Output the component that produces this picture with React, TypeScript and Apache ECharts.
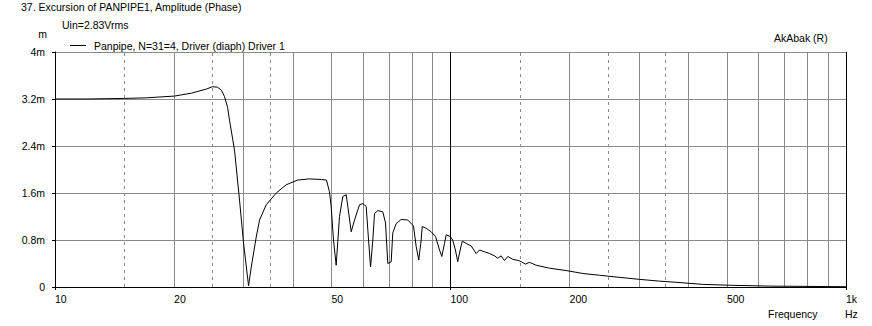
import React, { useEffect, useRef } from 'react';
import * as echarts from 'echarts';

// Frequency (Hz) and excursion amplitude (mm, labelled "m")
const FREQ = [
  10, 12, 15, 17.03, 20.05, 22.14, 24.16, 25.02, 25.76, 26.36, 26.83, 27.31, 27.62, 28.44, 29.28, 29.97,
  30.86, 31.35, 32.27, 32.9, 34.2, 36.25, 38.42, 41.04, 44.0, 47.19, 48.58, 49.43, 49.92, 50.6, 51.4,
  51.88, 52.4, 53.42, 54.49, 55.0, 56.1, 57.19, 58.88, 60.02, 61.22, 61.8, 62.78, 63.62, 64.25, 65.5,
  67.43, 68.5, 69.42, 70.8, 71.46, 72.9, 75.04, 77.98, 80.61, 81.89, 83.13, 84.31, 84.8, 86.8, 89.38,
  91.65, 93.8, 95.06, 96.56, 97.52, 99.82, 101.3, 102.9, 104.3, 105.8, 107.1, 109.6, 112.8, 116.1,
  118.4, 121.9, 125.5, 129.2, 131.7, 134.3, 136.9, 139.6, 143.7, 148.8, 150.9, 154.7, 158.4, 164.7,
  178.0, 196.1, 216.1, 238.1, 262.4, 300.6, 337.6, 372.1, 433.6, 507.6, 640.7, 1000,
];
const AMP = [
  3.2, 3.2, 3.21, 3.22, 3.25, 3.3, 3.37, 3.41, 3.4, 3.35, 3.24, 3.06, 2.84, 2.33, 1.48, 0.75,
  0.02, 0.34, 0.85, 1.14, 1.4, 1.6, 1.74, 1.82, 1.84, 1.83, 1.82, 1.62, 1.37, 0.8, 0.37,
  0.77, 1.2, 1.54, 1.57, 1.37, 0.94, 1.14, 1.4, 1.42, 1.37, 0.97, 0.34, 0.8, 1.25, 1.3,
  1.28, 1.09, 0.4, 0.43, 0.92, 1.08, 1.15, 1.14, 1.04, 0.69, 0.46, 0.8, 1.03, 1.0, 0.94,
  0.86, 0.63, 0.52, 0.74, 0.89, 0.86, 0.8, 0.63, 0.43, 0.63, 0.78, 0.74, 0.7, 0.57,
  0.63, 0.6, 0.57, 0.53, 0.49, 0.53, 0.45, 0.52, 0.47, 0.45, 0.43, 0.39, 0.42, 0.37,
  0.32, 0.28, 0.23, 0.2, 0.17, 0.13, 0.1, 0.08, 0.045, 0.03, 0.015, 0.005,
];

const SERIES_NAME = 'Panpipe, N=31=4, Driver (diaph) Driver 1';
const TITLE = '37. Excursion of PANPIPE1, Amplitude (Phase)';
const SUBTITLE = 'Uin=2.83Vrms';
const BRAND = 'AkAbak (R)';

const Y_MIN = 0;
const Y_MAX = 4;
const Y_STEP = 0.8;

const SOLID_GRID_HZ = [20, 30, 40, 50, 60, 70, 80, 90, 200, 300, 400, 500, 600, 700, 800, 900];
const DASHED_GRID_HZ = [15, 25, 35, 150, 250, 350];
const DARK_GRID_HZ = [100, 1000];
const EXTRA_X_LABELS = [20, 50, 200, 500];

const FONT = '"Liberation Sans", Arial, sans-serif';
const FS = 10.5;
const GRID_COLOR = '#8a8a8a';

export default function App() {
  const ref = useRef<HTMLDivElement>(null);

  useEffect(() => {
    if (!ref.current) return;
    const chart = echarts.init(ref.current, undefined, { renderer: 'svg' });

    const gridLines: any[] = [];
    SOLID_GRID_HZ.forEach((f) =>
      gridLines.push({
        xAxis: f,
        lineStyle: { color: GRID_COLOR, type: 'solid', width: 1 },
        label: { show: EXTRA_X_LABELS.includes(f), formatter: String(f) },
      })
    );
    DASHED_GRID_HZ.forEach((f) =>
      gridLines.push({
        xAxis: f,
        lineStyle: { color: GRID_COLOR, type: [3, 4], width: 1 },
        label: { show: false },
      })
    );
    DARK_GRID_HZ.forEach((f) =>
      gridLines.push({
        xAxis: f,
        lineStyle: { color: '#000', type: 'solid', width: 1 },
        label: { show: false },
      })
    );

    const option: any = {
      animation: false,
      backgroundColor: '#fff',
      textStyle: { fontFamily: FONT, fontSize: FS, color: '#000' },
      grid: { left: 55, top: 52, width: 791, height: 235 },
      legend: {
        left: 65,
        top: 35,
        icon: 'rect',
        itemWidth: 16,
        itemHeight: 1,
        data: [SERIES_NAME],
        textStyle: { fontFamily: FONT, fontSize: FS, color: '#000', padding: [0, 0, 0, 3] },
        selectedMode: false,
      },
      xAxis: {
        type: 'log',
        logBase: 10,
        min: 10,
        max: 1000,
        axisLine: { show: true, lineStyle: { color: '#000', width: 1 } },
        axisTick: { show: true, length: 3, lineStyle: { color: '#000' } },
        axisLabel: {
          align: 'left',
          margin: 6,
          fontFamily: FONT,
          fontSize: FS,
          color: '#000',
          formatter: (v: number) => {
            const r = Math.round(v);
            return r >= 1000 ? r / 1000 + 'k' : String(r);
          },
        },
        splitLine: { show: false },
        minorTick: { show: false },
      },
      yAxis: {
        type: 'value',
        min: Y_MIN,
        max: Y_MAX,
        interval: Y_STEP,
        name: 'm',
        nameLocation: 'end',
        nameGap: 13,
        nameTextStyle: { fontFamily: FONT, fontSize: FS, color: '#000', align: 'right', padding: [0, 8, 0, 0] },
        axisLine: { show: true, lineStyle: { color: '#000', width: 1 } },
        axisTick: { show: true, length: 3, lineStyle: { color: '#000' } },
        axisLabel: {
          margin: 10,
          fontFamily: FONT,
          fontSize: FS,
          color: '#000',
          padding: [0, 0, 6, 0],
          formatter: (v: number) => {
            const r = Number(v.toFixed(1));
            return r === 0 ? '0' : r + 'm';
          },
        },
        splitLine: { show: true, lineStyle: { color: GRID_COLOR, width: 1 } },
      },
      series: [
        {
          name: 'gridlines',
          type: 'line',
          data: [],
          z: 1,
          silent: true,
          markLine: {
            silent: true,
            z: 1,
            animation: false,
            symbol: ['none', 'none'],
            emphasis: { disabled: true },
            label: {
              show: false,
              position: 'start',
              align: 'left',
              distance: 6,
              fontFamily: FONT,
              fontSize: FS,
              color: '#000',
            },
            data: gridLines,
          },
        },
        {
          name: SERIES_NAME,
          type: 'line',
          z: 10,
          data: FREQ.map((f, i) => [f, AMP[i]]),
          showSymbol: false,
          symbol: 'none',
          color: '#000',
          lineStyle: { color: '#000', width: 1 },
          itemStyle: { color: '#000' },
          emphasis: { disabled: true },
        },
      ],
      graphic: [
        { type: 'text', x: 21, y: 7, style: { text: TITLE, font: `${FS}px ${FONT}`, fill: '#000', verticalAlign: 'middle' } },
        { type: 'text', x: 62, y: 24.5, style: { text: SUBTITLE, font: `${FS}px ${FONT}`, fill: '#000', verticalAlign: 'middle' } },
        { type: 'text', x: 774, y: 37.5, style: { text: BRAND, font: `${FS}px ${FONT}`, fill: '#000', verticalAlign: 'middle' } },
        { type: 'text', x: 768, y: 314, style: { text: 'Frequency', font: `${FS}px ${FONT}`, fill: '#000', verticalAlign: 'middle' } },
        { type: 'text', x: 845, y: 314, style: { text: 'Hz', font: `${FS}px ${FONT}`, fill: '#000', verticalAlign: 'middle' } },
      ],
    };

    chart.setOption(option);
    return () => chart.dispose();
  }, []);

  return (
    <div
      ref={ref}
      style={{ position: 'fixed', left: 0, top: 0, width: 872, height: 326, background: '#fff' }}
    />
  );
}
